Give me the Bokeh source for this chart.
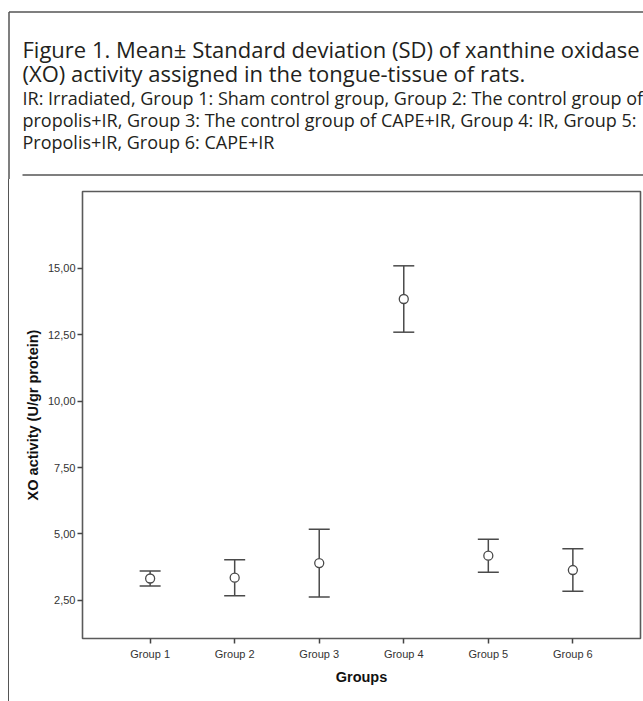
from bokeh.plotting import figure
from bokeh.models import ColumnDataSource, Range1d, FixedTicker, Whisker, TeeHead
from bokeh.layouts import column
from bokeh.core.properties import value
from bokeh.embed import file_html
from bokeh.resources import INLINE

# ---- data ----
groups = ["Group 1", "Group 2", "Group 3", "Group 4", "Group 5", "Group 6"]
group_pos = [1, 2, 3, 4, 5, 6]
means = [3.32, 3.35, 3.90, 13.85, 4.18, 3.64]
sds = [0.28, 0.68, 1.28, 1.25, 0.62, 0.80]
y_ticks = [2.5, 5.0, 7.5, 10.0, 12.5, 15.0]
y_tick_labels = ["2,50", "5,00", "7,50", "10,00", "12,50", "15,00"]

title_lines = ["Figure 1. Mean\u00b1 Standard deviation (SD) of xanthine oxidase",
               "(XO) activity assigned in the tongue-tissue of rats."]
note_lines = ["IR: Irradiated, Group 1: Sham control group, Group 2: The control group of",
              "propolis+IR, Group 3: The control group of CAPE+IR, Group 4: IR, Group 5:",
              "Propolis+IR, Group 6: CAPE+IR"]

TEXT_COLOR = "#231f20"
LINE_COLOR = "#4a4a4a"
BOX_COLOR = "#555555"

# ---- header (caption), drawn in page pixel coordinates ----
hdr = figure(width=643, height=179, output_backend="svg", toolbar_location=None,
             x_range=Range1d(0, 643), y_range=Range1d(179, 0),
             x_axis_location=None, y_axis_location=None, min_border=0,
             outline_line_color=None)
hdr.frame_align = False
hdr.grid.visible = False
hdr.text(x=[22, 22], y=[48, 72], text=title_lines, text_font=value("Open Sans"),
         text_font_size="22px", text_baseline="middle", text_align="left",
         text_color=TEXT_COLOR)
hdr.text(x=[22, 22, 22], y=[97, 119, 141], text=note_lines, text_font=value("Open Sans"),
         text_font_size="18px", text_baseline="middle", text_align="left",
         text_color=TEXT_COLOR)
# decorative box edges and rule
hdr.segment(x0=[8.5, 8.5, 22], y0=[11.5, 11.5, 174.5], x1=[643, 8.5, 643], y1=[11.5, 179, 174.5],
            line_color=BOX_COLOR, line_width=1.5)

# ---- main chart ----
upper = [m + s for m, s in zip(means, sds)]
lower = [m - s for m, s in zip(means, sds)]
src = ColumnDataSource(dict(x=group_pos, mean=means, upper=upper, lower=lower))

p = figure(width=634, height=522, output_backend="svg", toolbar_location=None,
           x_range=Range1d(0.2, 6.8), y_range=Range1d(1.06, 17.9),
           min_border_left=73, min_border_right=3, min_border_top=12, min_border_bottom=63,
           styles={"margin-left": "8px", "border-left": "1px solid #555555"})
p.frame_align = False
p.grid.visible = False
p.outline_line_color = "#5a5a5a"
p.outline_line_width = 1.6

w = Whisker(source=src, base="x", upper="upper", lower="lower",
            line_color=LINE_COLOR, line_width=1.5,
            upper_head=TeeHead(size=21, line_color=LINE_COLOR, line_width=1.5),
            lower_head=TeeHead(size=21, line_color=LINE_COLOR, line_width=1.5))
p.add_layout(w)
p.scatter("x", "mean", source=src, marker="circle", size=9, fill_color="white",
          line_color=LINE_COLOR, line_width=1.3)

p.yaxis.ticker = FixedTicker(ticks=y_ticks)
p.yaxis.major_label_overrides = {t: l for t, l in zip(y_ticks, y_tick_labels)}
p.xaxis.ticker = FixedTicker(ticks=group_pos)
p.xaxis.major_label_overrides = {g: l for g, l in zip(group_pos, groups)}

for ax in (p.xaxis[0], p.yaxis[0]):
    ax.axis_line_color = None
    ax.minor_tick_line_color = None
    ax.major_tick_in = 0
    ax.major_tick_out = 5
    ax.major_tick_line_color = "#444444"
    ax.major_tick_line_width = 1.5
    ax.major_label_text_font = "Liberation Sans"
    ax.major_label_text_font_size = "11px"
    ax.major_label_text_color = "#333333"
    ax.axis_label_text_font = "Liberation Sans"
    ax.axis_label_text_font_style = "bold"
    ax.axis_label_text_font_size = "14.5px"
    ax.axis_label_text_color = "#111111"

p.xaxis.axis_label = "Groups"
p.xaxis.axis_label_standoff = 6
p.xaxis.major_label_standoff = 4
p.yaxis.axis_label = "XO activity (U/gr protein)"
p.yaxis.axis_label_standoff = 4
p.yaxis.major_label_standoff = 2

layout = column(hdr, p, spacing=0)

open("out.html", "w").write(file_html(layout, INLINE))
